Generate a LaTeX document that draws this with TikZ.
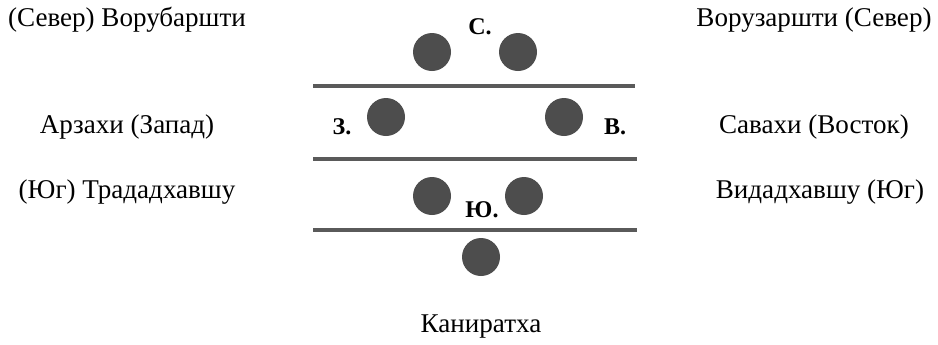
\documentclass[tikz,border=0pt]{standalone}
\usepackage{fontspec}
\setmainfont{Liberation Serif}
\definecolor{dot}{HTML}{4D4D4D}
\definecolor{bar}{HTML}{5A5A5A}
\tikzset{
  side/.style={inner sep=0pt, anchor=center, font=\fontsize{20.3}{23}\selectfont},
  dir/.style={inner sep=0pt, anchor=center, font=\fontsize{18}{20}\selectfont\bfseries},
  stone/.style={circle, fill=dot, minimum size=28.5pt, inner sep=0pt},
  wall/.style={draw=bar, line width=3pt}
}
\begin{document}
\begin{tikzpicture}[x=0.75pt,y=-0.75pt]
\useasboundingbox (0,0) rectangle (938,344);
% side texts
\node[side] (nw) at (127,20) {(Север) Ворубаршти};
\node[side] (w)  at (127,127) {Арзахи (Запад)};
\node[side] (sw) at (127,192) {(Юг) Трададхавшу};
\node[side] (ne) at (814,20) {Ворузаршти (Север)};
\node[side] (e)  at (814,127) {Савахи (Восток)};
\node[side] (se) at (820,192) {Видадхавшу (Юг)};
\node[side] (bot) at (481,327) {Каниратха};
% walls
\coordinate (l1a) at (313,86); \coordinate (l1b) at (635,86);
\coordinate (l2a) at (313,159); \coordinate (l2b) at (637,159);
\coordinate (l3a) at (313,230); \coordinate (l3b) at (637,230);
\draw[wall] (l1a) -- (l1b);
\draw[wall] (l2a) -- (l2b);
\draw[wall] (l3a) -- (l3b);
% stones
\node[stone] (c1) at (432,52) {};
\node[stone] (c2) at (518,52) {};
\node[stone] (c3) at (386,117) {};
\node[stone] (c4) at (564,117) {};
\node[stone] (c5) at (432,196) {};
\node[stone] (c6) at (524,196) {};
\node[stone] (c7) at (481,257) {};
% direction labels
\node[dir] (dn) at (480,27) {С.};
\node[dir] (dw) at (342,127) {З.};
\node[dir] (de) at (615,127) {В.};
\node[dir] (ds) at (482,210) {Ю.};
\end{tikzpicture}
\end{document}
